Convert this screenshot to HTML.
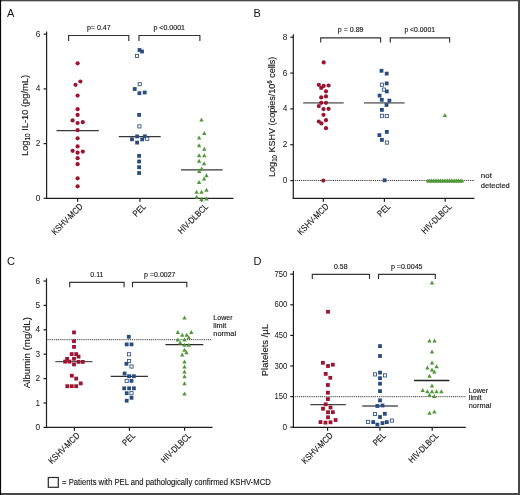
<!DOCTYPE html>
<html><head><meta charset="utf-8"><title>Figure</title>
<style>
html,body{margin:0;padding:0;background:#fff;}
body{width:520px;height:495px;overflow:hidden;}
svg{display:block;will-change:transform;}
text{font-family:"Liberation Sans", sans-serif;}
</style></head>
<body>
<svg width="520" height="495" viewBox="0 0 520 495">
<rect x="0" y="0" width="520" height="495" fill="#ffffff"/>
<text x="7.00" y="16.60" font-size="11" text-anchor="start" fill="#141414" >A</text>
<line x1="46.60" y1="31.60" x2="46.60" y2="198.90" stroke="#1e1e1e" stroke-width="1.2" />
<line x1="46.00" y1="198.30" x2="233.50" y2="198.30" stroke="#1e1e1e" stroke-width="1.2" />
<line x1="43.60" y1="198.30" x2="46.60" y2="198.30" stroke="#1e1e1e" stroke-width="1.2" />
<text x="40.30" y="200.85" font-size="8.3" text-anchor="end" fill="#141414" >0</text>
<line x1="43.60" y1="143.60" x2="46.60" y2="143.60" stroke="#1e1e1e" stroke-width="1.2" />
<text x="40.30" y="146.15" font-size="8.3" text-anchor="end" fill="#141414" >2</text>
<line x1="43.60" y1="88.90" x2="46.60" y2="88.90" stroke="#1e1e1e" stroke-width="1.2" />
<text x="40.30" y="91.45" font-size="8.3" text-anchor="end" fill="#141414" >4</text>
<line x1="43.60" y1="34.20" x2="46.60" y2="34.20" stroke="#1e1e1e" stroke-width="1.2" />
<text x="40.30" y="36.75" font-size="8.3" text-anchor="end" fill="#141414" >6</text>
<line x1="77.60" y1="198.30" x2="77.60" y2="201.70" stroke="#1e1e1e" stroke-width="1.2" />
<text x="0" y="0" font-size="9" text-anchor="end" textLength="40" lengthAdjust="spacingAndGlyphs" fill="#141414" stroke="#141414" stroke-width="0.12" transform="translate(83.5,207.20000000000002) rotate(-45)">KSHV-MCD</text>
<line x1="139.90" y1="198.30" x2="139.90" y2="201.70" stroke="#1e1e1e" stroke-width="1.2" />
<text x="0" y="0" font-size="9" text-anchor="end" textLength="14.2" lengthAdjust="spacingAndGlyphs" fill="#141414" stroke="#141414" stroke-width="0.12" transform="translate(146.4,207.20000000000002) rotate(-45)">PEL</text>
<line x1="201.60" y1="198.30" x2="201.60" y2="201.70" stroke="#1e1e1e" stroke-width="1.2" />
<text x="0" y="0" font-size="9" text-anchor="end" textLength="38.5" lengthAdjust="spacingAndGlyphs" fill="#141414" stroke="#141414" stroke-width="0.12" transform="translate(208.7,207.20000000000002) rotate(-45)">HIV-DLBCL</text>
<text x="0" y="0" font-size="9.6" text-anchor="middle" textLength="81" lengthAdjust="spacingAndGlyphs" fill="#141414" stroke="#141414" stroke-width="0.12" transform="translate(28.0,115.5) rotate(-90)">Log<tspan font-size="6.5" dy="2">10</tspan><tspan dy="-2"> IL-10 (pg/mL)</tspan></text>
<polyline points="68.6,40.9 68.6,35.5 128.8,35.5 128.8,40.9" fill="none" stroke="#333" stroke-width="1.15"/>
<polyline points="139.0,40.9 139.0,35.5 199.9,35.5 199.9,40.9" fill="none" stroke="#333" stroke-width="1.15"/>
<text x="86.90" y="29.80" font-size="6.8" text-anchor="start" textLength="23.8" lengthAdjust="spacingAndGlyphs" fill="#141414" stroke="#141414" stroke-width="0.12" >p= 0.47</text>
<text x="153.40" y="29.80" font-size="6.8" text-anchor="start" textLength="31.6" lengthAdjust="spacingAndGlyphs" fill="#141414" stroke="#141414" stroke-width="0.12" >p &lt;0.0001</text>
<line x1="56.50" y1="130.60" x2="98.80" y2="130.60" stroke="#383838" stroke-width="1.3" />
<line x1="118.80" y1="136.60" x2="160.70" y2="136.60" stroke="#383838" stroke-width="1.3" />
<line x1="181.00" y1="169.80" x2="222.70" y2="169.80" stroke="#383838" stroke-width="1.3" />
<circle cx="77.60" cy="63.30" r="2.1" fill="#9a1532"/>
<circle cx="80.40" cy="81.50" r="2.1" fill="#9a1532"/>
<circle cx="75.50" cy="84.80" r="2.1" fill="#9a1532"/>
<circle cx="77.60" cy="95.60" r="2.1" fill="#9a1532"/>
<circle cx="77.60" cy="109.20" r="2.1" fill="#9a1532"/>
<circle cx="77.60" cy="114.90" r="2.1" fill="#9a1532"/>
<circle cx="72.60" cy="120.40" r="2.1" fill="#9a1532"/>
<circle cx="77.60" cy="123.00" r="2.1" fill="#9a1532"/>
<circle cx="82.80" cy="122.20" r="2.1" fill="#9a1532"/>
<circle cx="77.60" cy="130.20" r="2.1" fill="#9a1532"/>
<circle cx="77.60" cy="138.30" r="2.1" fill="#9a1532"/>
<circle cx="77.60" cy="146.40" r="2.1" fill="#9a1532"/>
<circle cx="72.60" cy="150.80" r="2.1" fill="#9a1532"/>
<circle cx="77.60" cy="152.70" r="2.1" fill="#9a1532"/>
<circle cx="82.80" cy="151.60" r="2.1" fill="#9a1532"/>
<circle cx="77.60" cy="158.20" r="2.1" fill="#9a1532"/>
<circle cx="77.60" cy="164.20" r="2.1" fill="#9a1532"/>
<circle cx="77.60" cy="178.30" r="2.1" fill="#9a1532"/>
<circle cx="77.60" cy="186.30" r="2.1" fill="#9a1532"/>
<rect x="137.60" y="48.10" width="3.8" height="3.8" fill="#2b4b7f"/>
<rect x="140.10" y="49.60" width="3.8" height="3.8" fill="#2b4b7f"/>
<rect x="135.42" y="54.32" width="3.16" height="3.16" fill="#fff" stroke="#2b4b7f" stroke-width="0.84"/>
<rect x="138.12" y="82.62" width="3.16" height="3.16" fill="#fff" stroke="#2b4b7f" stroke-width="0.84"/>
<rect x="132.80" y="87.10" width="3.8" height="3.8" fill="#2b4b7f"/>
<rect x="137.50" y="91.30" width="3.8" height="3.8" fill="#2b4b7f"/>
<rect x="142.80" y="90.60" width="3.8" height="3.8" fill="#2b4b7f"/>
<rect x="137.20" y="113.00" width="3.8" height="3.8" fill="#2b4b7f"/>
<rect x="137.82" y="124.82" width="3.16" height="3.16" fill="#fff" stroke="#2b4b7f" stroke-width="0.84"/>
<rect x="135.20" y="134.50" width="3.8" height="3.8" fill="#2b4b7f"/>
<rect x="130.10" y="137.40" width="3.8" height="3.8" fill="#2b4b7f"/>
<rect x="135.20" y="140.70" width="3.8" height="3.8" fill="#2b4b7f"/>
<rect x="140.30" y="137.50" width="3.8" height="3.8" fill="#2b4b7f"/>
<rect x="143.00" y="134.40" width="3.8" height="3.8" fill="#2b4b7f"/>
<rect x="145.62" y="137.22" width="3.16" height="3.16" fill="#fff" stroke="#2b4b7f" stroke-width="0.84"/>
<rect x="137.20" y="154.00" width="3.8" height="3.8" fill="#2b4b7f"/>
<rect x="137.20" y="159.60" width="3.8" height="3.8" fill="#2b4b7f"/>
<rect x="137.20" y="165.30" width="3.8" height="3.8" fill="#2b4b7f"/>
<rect x="137.20" y="171.10" width="3.8" height="3.8" fill="#2b4b7f"/>
<polygon points="199.30,121.40 203.70,121.40 201.50,117.40" fill="#52983a"/>
<polygon points="202.10,135.10 206.50,135.10 204.30,131.10" fill="#52983a"/>
<polygon points="196.90,139.60 201.30,139.60 199.10,135.60" fill="#52983a"/>
<polygon points="196.90,147.20 201.30,147.20 199.10,143.20" fill="#52983a"/>
<polygon points="202.10,150.80 206.50,150.80 204.30,146.80" fill="#52983a"/>
<polygon points="196.90,157.30 201.30,157.30 199.10,153.30" fill="#52983a"/>
<polygon points="202.10,157.30 206.50,157.30 204.30,153.30" fill="#52983a"/>
<polygon points="196.90,162.70 201.30,162.70 199.10,158.70" fill="#52983a"/>
<polygon points="201.90,165.20 206.30,165.20 204.10,161.20" fill="#52983a"/>
<polygon points="199.40,170.40 203.80,170.40 201.60,166.40" fill="#52983a"/>
<polygon points="197.10,173.10 201.50,173.10 199.30,169.10" fill="#52983a"/>
<polygon points="204.30,177.20 208.70,177.20 206.50,173.20" fill="#52983a"/>
<polygon points="201.90,180.50 206.30,180.50 204.10,176.50" fill="#52983a"/>
<polygon points="196.90,184.10 201.30,184.10 199.10,180.10" fill="#52983a"/>
<polygon points="204.30,191.80 208.70,191.80 206.50,187.80" fill="#52983a"/>
<polygon points="194.40,193.80 198.80,193.80 196.60,189.80" fill="#52983a"/>
<polygon points="199.30,193.80 203.70,193.80 201.50,189.80" fill="#52983a"/>
<polygon points="194.40,198.80 198.80,198.80 196.60,194.80" fill="#52983a"/>
<polygon points="199.30,200.90 203.70,200.90 201.50,196.90" fill="#52983a"/>
<polygon points="204.30,200.60 208.70,200.60 206.50,196.60" fill="#52983a"/>
<text x="253.50" y="17.00" font-size="11" text-anchor="start" fill="#141414" >B</text>
<line x1="293.30" y1="34.20" x2="293.30" y2="198.90" stroke="#1e1e1e" stroke-width="1.2" />
<line x1="292.70" y1="198.30" x2="474.40" y2="198.30" stroke="#1e1e1e" stroke-width="1.2" />
<line x1="290.30" y1="180.60" x2="293.30" y2="180.60" stroke="#1e1e1e" stroke-width="1.2" />
<text x="287.40" y="183.15" font-size="8.3" text-anchor="end" fill="#141414" >0</text>
<line x1="290.30" y1="144.75" x2="293.30" y2="144.75" stroke="#1e1e1e" stroke-width="1.2" />
<text x="287.40" y="147.30" font-size="8.3" text-anchor="end" fill="#141414" >2</text>
<line x1="290.30" y1="108.90" x2="293.30" y2="108.90" stroke="#1e1e1e" stroke-width="1.2" />
<text x="287.40" y="111.45" font-size="8.3" text-anchor="end" fill="#141414" >4</text>
<line x1="290.30" y1="73.05" x2="293.30" y2="73.05" stroke="#1e1e1e" stroke-width="1.2" />
<text x="287.40" y="75.60" font-size="8.3" text-anchor="end" fill="#141414" >6</text>
<line x1="290.30" y1="37.20" x2="293.30" y2="37.20" stroke="#1e1e1e" stroke-width="1.2" />
<text x="287.40" y="39.75" font-size="8.3" text-anchor="end" fill="#141414" >8</text>
<line x1="323.40" y1="198.30" x2="323.40" y2="201.70" stroke="#1e1e1e" stroke-width="1.2" />
<text x="0" y="0" font-size="9" text-anchor="end" textLength="40" lengthAdjust="spacingAndGlyphs" fill="#141414" stroke="#141414" stroke-width="0.12" transform="translate(329.29999999999995,207.20000000000002) rotate(-45)">KSHV-MCD</text>
<line x1="384.40" y1="198.30" x2="384.40" y2="201.70" stroke="#1e1e1e" stroke-width="1.2" />
<text x="0" y="0" font-size="9" text-anchor="end" textLength="14.2" lengthAdjust="spacingAndGlyphs" fill="#141414" stroke="#141414" stroke-width="0.12" transform="translate(390.9,207.20000000000002) rotate(-45)">PEL</text>
<line x1="445.20" y1="198.30" x2="445.20" y2="201.70" stroke="#1e1e1e" stroke-width="1.2" />
<text x="0" y="0" font-size="9" text-anchor="end" textLength="38.5" lengthAdjust="spacingAndGlyphs" fill="#141414" stroke="#141414" stroke-width="0.12" transform="translate(452.3,207.20000000000002) rotate(-45)">HIV-DLBCL</text>
<text x="0" y="0" font-size="9.6" text-anchor="middle" textLength="120.3" lengthAdjust="spacingAndGlyphs" fill="#141414" stroke="#141414" stroke-width="0.12" transform="translate(274.7,116.8) rotate(-90)">Log<tspan font-size="6.5" dy="2">10</tspan><tspan dy="-2"> KSHV (copies/10</tspan><tspan font-size="6.5" dy="-3">6</tspan><tspan dy="3"> cells)</tspan></text>
<polyline points="320.7,42.4 320.7,37.8 380.6,37.8 380.6,42.4" fill="none" stroke="#333" stroke-width="1.15"/>
<polyline points="390.3,42.4 390.3,37.8 449.6,37.8 449.6,42.4" fill="none" stroke="#333" stroke-width="1.15"/>
<text x="337.80" y="32.30" font-size="6.8" text-anchor="start" textLength="25.7" lengthAdjust="spacingAndGlyphs" fill="#141414" stroke="#141414" stroke-width="0.12" >p = 0.89</text>
<text x="404.40" y="32.30" font-size="6.8" text-anchor="start" textLength="30.6" lengthAdjust="spacingAndGlyphs" fill="#141414" stroke="#141414" stroke-width="0.12" >p &lt;0.0001</text>
<line x1="293.3" y1="180.5" x2="474.3" y2="180.5" stroke="#2a2a2a" stroke-width="1.0" stroke-dasharray="1 0.9"/>
<text x="480.80" y="178.20" font-size="8" text-anchor="start" fill="#141414" stroke="#141414" stroke-width="0.12" >not</text>
<text x="480.80" y="187.50" font-size="8" text-anchor="start" textLength="29" lengthAdjust="spacingAndGlyphs" fill="#141414" stroke="#141414" stroke-width="0.12" >detected</text>
<line x1="303.20" y1="102.90" x2="343.70" y2="102.90" stroke="#808080" stroke-width="1.8" />
<line x1="364.00" y1="102.90" x2="404.60" y2="102.90" stroke="#808080" stroke-width="1.8" />
<circle cx="323.70" cy="62.40" r="2.1" fill="#9a1532"/>
<circle cx="318.80" cy="84.80" r="2.1" fill="#9a1532"/>
<circle cx="323.70" cy="85.90" r="2.1" fill="#9a1532"/>
<circle cx="328.60" cy="85.50" r="2.1" fill="#9a1532"/>
<circle cx="321.20" cy="87.90" r="2.1" fill="#9a1532"/>
<circle cx="326.00" cy="91.30" r="2.1" fill="#9a1532"/>
<circle cx="321.20" cy="97.40" r="2.1" fill="#9a1532"/>
<circle cx="326.00" cy="96.40" r="2.1" fill="#9a1532"/>
<circle cx="321.20" cy="102.80" r="2.1" fill="#9a1532"/>
<circle cx="326.00" cy="102.80" r="2.1" fill="#9a1532"/>
<circle cx="318.80" cy="106.10" r="2.1" fill="#9a1532"/>
<circle cx="323.50" cy="109.10" r="2.1" fill="#9a1532"/>
<circle cx="328.60" cy="108.80" r="2.1" fill="#9a1532"/>
<circle cx="323.50" cy="114.80" r="2.1" fill="#9a1532"/>
<circle cx="326.00" cy="120.20" r="2.1" fill="#9a1532"/>
<circle cx="318.80" cy="121.50" r="2.1" fill="#9a1532"/>
<circle cx="321.40" cy="123.40" r="2.1" fill="#9a1532"/>
<circle cx="326.00" cy="128.20" r="2.1" fill="#9a1532"/>
<circle cx="323.30" cy="180.60" r="2.1" fill="#9a1532"/>
<rect x="379.60" y="68.90" width="3.8" height="3.8" fill="#2b4b7f"/>
<rect x="384.80" y="71.70" width="3.8" height="3.8" fill="#2b4b7f"/>
<rect x="384.80" y="81.50" width="3.8" height="3.8" fill="#2b4b7f"/>
<rect x="380.32" y="83.12" width="3.16" height="3.16" fill="#fff" stroke="#2b4b7f" stroke-width="0.84"/>
<rect x="382.32" y="88.02" width="3.16" height="3.16" fill="#fff" stroke="#2b4b7f" stroke-width="0.84"/>
<rect x="384.90" y="89.50" width="3.8" height="3.8" fill="#2b4b7f"/>
<rect x="377.70" y="93.70" width="3.8" height="3.8" fill="#2b4b7f"/>
<rect x="379.90" y="97.90" width="3.8" height="3.8" fill="#2b4b7f"/>
<rect x="387.50" y="98.70" width="3.8" height="3.8" fill="#2b4b7f"/>
<rect x="384.60" y="103.10" width="3.8" height="3.8" fill="#2b4b7f"/>
<rect x="380.00" y="108.00" width="3.8" height="3.8" fill="#2b4b7f"/>
<rect x="380.32" y="114.22" width="3.16" height="3.16" fill="#fff" stroke="#2b4b7f" stroke-width="0.84"/>
<rect x="385.22" y="114.52" width="3.16" height="3.16" fill="#fff" stroke="#2b4b7f" stroke-width="0.84"/>
<rect x="384.90" y="130.00" width="3.8" height="3.8" fill="#2b4b7f"/>
<rect x="377.50" y="133.20" width="3.8" height="3.8" fill="#2b4b7f"/>
<rect x="380.00" y="138.00" width="3.8" height="3.8" fill="#2b4b7f"/>
<rect x="385.32" y="141.02" width="3.16" height="3.16" fill="#fff" stroke="#2b4b7f" stroke-width="0.84"/>
<rect x="382.70" y="178.40" width="3.8" height="3.8" fill="#2b4b7f"/>
<polygon points="442.70,116.90 447.10,116.90 444.90,112.90" fill="#52983a"/>
<polygon points="425.80,182.60 430.20,182.60 428.00,178.60" fill="#52983a"/>
<polygon points="427.59,182.60 431.99,182.60 429.79,178.60" fill="#52983a"/>
<polygon points="429.38,182.60 433.78,182.60 431.58,178.60" fill="#52983a"/>
<polygon points="431.17,182.60 435.57,182.60 433.37,178.60" fill="#52983a"/>
<polygon points="432.96,182.60 437.36,182.60 435.16,178.60" fill="#52983a"/>
<polygon points="434.75,182.60 439.15,182.60 436.95,178.60" fill="#52983a"/>
<polygon points="436.54,182.60 440.94,182.60 438.74,178.60" fill="#52983a"/>
<polygon points="438.33,182.60 442.73,182.60 440.53,178.60" fill="#52983a"/>
<polygon points="440.12,182.60 444.52,182.60 442.32,178.60" fill="#52983a"/>
<polygon points="441.91,182.60 446.31,182.60 444.11,178.60" fill="#52983a"/>
<polygon points="443.69,182.60 448.09,182.60 445.89,178.60" fill="#52983a"/>
<polygon points="445.48,182.60 449.88,182.60 447.68,178.60" fill="#52983a"/>
<polygon points="447.27,182.60 451.67,182.60 449.47,178.60" fill="#52983a"/>
<polygon points="449.06,182.60 453.46,182.60 451.26,178.60" fill="#52983a"/>
<polygon points="450.85,182.60 455.25,182.60 453.05,178.60" fill="#52983a"/>
<polygon points="452.64,182.60 457.04,182.60 454.84,178.60" fill="#52983a"/>
<polygon points="454.43,182.60 458.83,182.60 456.63,178.60" fill="#52983a"/>
<polygon points="456.22,182.60 460.62,182.60 458.42,178.60" fill="#52983a"/>
<polygon points="458.01,182.60 462.41,182.60 460.21,178.60" fill="#52983a"/>
<polygon points="459.80,182.60 464.20,182.60 462.00,178.60" fill="#52983a"/>
<text x="7.00" y="264.50" font-size="11" text-anchor="start" fill="#141414" >C</text>
<line x1="46.50" y1="278.30" x2="46.50" y2="427.90" stroke="#1e1e1e" stroke-width="1.2" />
<line x1="45.90" y1="427.30" x2="212.50" y2="427.30" stroke="#1e1e1e" stroke-width="1.2" />
<line x1="43.50" y1="427.40" x2="46.50" y2="427.40" stroke="#1e1e1e" stroke-width="1.2" />
<text x="40.00" y="429.95" font-size="8.3" text-anchor="end" fill="#141414" >0</text>
<line x1="43.50" y1="403.00" x2="46.50" y2="403.00" stroke="#1e1e1e" stroke-width="1.2" />
<text x="40.00" y="405.55" font-size="8.3" text-anchor="end" fill="#141414" >1</text>
<line x1="43.50" y1="378.60" x2="46.50" y2="378.60" stroke="#1e1e1e" stroke-width="1.2" />
<text x="40.00" y="381.15" font-size="8.3" text-anchor="end" fill="#141414" >2</text>
<line x1="43.50" y1="354.20" x2="46.50" y2="354.20" stroke="#1e1e1e" stroke-width="1.2" />
<text x="40.00" y="356.75" font-size="8.3" text-anchor="end" fill="#141414" >3</text>
<line x1="43.50" y1="329.80" x2="46.50" y2="329.80" stroke="#1e1e1e" stroke-width="1.2" />
<text x="40.00" y="332.35" font-size="8.3" text-anchor="end" fill="#141414" >4</text>
<line x1="43.50" y1="305.40" x2="46.50" y2="305.40" stroke="#1e1e1e" stroke-width="1.2" />
<text x="40.00" y="307.95" font-size="8.3" text-anchor="end" fill="#141414" >5</text>
<line x1="43.50" y1="281.00" x2="46.50" y2="281.00" stroke="#1e1e1e" stroke-width="1.2" />
<text x="40.00" y="283.55" font-size="8.3" text-anchor="end" fill="#141414" >6</text>
<line x1="74.40" y1="427.30" x2="74.40" y2="430.70" stroke="#1e1e1e" stroke-width="1.2" />
<text x="0" y="0" font-size="9" text-anchor="end" textLength="40" lengthAdjust="spacingAndGlyphs" fill="#141414" stroke="#141414" stroke-width="0.12" transform="translate(80.30000000000001,436.2) rotate(-45)">KSHV-MCD</text>
<line x1="129.40" y1="427.30" x2="129.40" y2="430.70" stroke="#1e1e1e" stroke-width="1.2" />
<text x="0" y="0" font-size="9" text-anchor="end" textLength="14.2" lengthAdjust="spacingAndGlyphs" fill="#141414" stroke="#141414" stroke-width="0.12" transform="translate(135.9,436.2) rotate(-45)">PEL</text>
<line x1="184.60" y1="427.30" x2="184.60" y2="430.70" stroke="#1e1e1e" stroke-width="1.2" />
<text x="0" y="0" font-size="9" text-anchor="end" textLength="38.5" lengthAdjust="spacingAndGlyphs" fill="#141414" stroke="#141414" stroke-width="0.12" transform="translate(191.7,436.2) rotate(-45)">HIV-DLBCL</text>
<text x="0" y="0" font-size="9.6" text-anchor="middle" textLength="71.2" lengthAdjust="spacingAndGlyphs" fill="#141414" stroke="#141414" stroke-width="0.12" transform="translate(30.1,352.6) rotate(-90)">Albumin (mg/dL)</text>
<polyline points="69.7,287.2 69.7,282.3 124.1,282.3 124.1,287.2" fill="none" stroke="#333" stroke-width="1.15"/>
<polyline points="132.5,287.2 132.5,282.3 186.8,282.3 186.8,287.2" fill="none" stroke="#333" stroke-width="1.15"/>
<text x="90.30" y="276.80" font-size="6.8" text-anchor="start" textLength="13.1" lengthAdjust="spacingAndGlyphs" fill="#141414" stroke="#141414" stroke-width="0.12" >0.11</text>
<text x="144.10" y="276.80" font-size="6.8" text-anchor="start" textLength="31.4" lengthAdjust="spacingAndGlyphs" fill="#141414" stroke="#141414" stroke-width="0.12" >p =0.0027</text>
<line x1="46.5" y1="339.7" x2="211.0" y2="339.7" stroke="#2a2a2a" stroke-width="1.0" stroke-dasharray="1 0.9"/>
<text x="213.30" y="320.40" font-size="7.3" text-anchor="start" textLength="19.2" lengthAdjust="spacingAndGlyphs" fill="#141414" stroke="#141414" stroke-width="0.12" >Lower</text>
<text x="213.30" y="328.00" font-size="7.3" text-anchor="start" fill="#141414" stroke="#141414" stroke-width="0.12" >limit</text>
<text x="213.30" y="335.80" font-size="7.3" text-anchor="start" textLength="22.8" lengthAdjust="spacingAndGlyphs" fill="#141414" stroke="#141414" stroke-width="0.12" >normal</text>
<line x1="55.30" y1="361.60" x2="92.50" y2="361.60" stroke="#555" stroke-width="1.2" />
<line x1="110.70" y1="376.30" x2="147.90" y2="376.30" stroke="#333" stroke-width="1.3" />
<line x1="165.50" y1="344.60" x2="203.30" y2="344.60" stroke="#2a2a2a" stroke-width="1.1" />
<rect x="72.10" y="330.50" width="3.8" height="3.8" fill="#9a1532"/>
<rect x="72.10" y="339.30" width="3.8" height="3.8" fill="#9a1532"/>
<rect x="72.10" y="345.00" width="3.8" height="3.8" fill="#9a1532"/>
<rect x="69.80" y="352.20" width="3.8" height="3.8" fill="#9a1532"/>
<rect x="74.30" y="352.20" width="3.8" height="3.8" fill="#9a1532"/>
<rect x="76.60" y="354.70" width="3.8" height="3.8" fill="#9a1532"/>
<rect x="65.20" y="356.90" width="3.8" height="3.8" fill="#9a1532"/>
<rect x="72.10" y="356.90" width="3.8" height="3.8" fill="#9a1532"/>
<rect x="63.20" y="359.70" width="3.8" height="3.8" fill="#9a1532"/>
<rect x="67.50" y="359.70" width="3.8" height="3.8" fill="#9a1532"/>
<rect x="76.60" y="360.00" width="3.8" height="3.8" fill="#9a1532"/>
<rect x="80.90" y="360.00" width="3.8" height="3.8" fill="#9a1532"/>
<rect x="72.10" y="362.50" width="3.8" height="3.8" fill="#9a1532"/>
<rect x="69.90" y="373.80" width="3.8" height="3.8" fill="#9a1532"/>
<rect x="74.30" y="376.70" width="3.8" height="3.8" fill="#9a1532"/>
<rect x="78.80" y="381.50" width="3.8" height="3.8" fill="#9a1532"/>
<rect x="65.40" y="384.30" width="3.8" height="3.8" fill="#9a1532"/>
<rect x="69.90" y="384.30" width="3.8" height="3.8" fill="#9a1532"/>
<rect x="74.30" y="384.30" width="3.8" height="3.8" fill="#9a1532"/>
<rect x="126.90" y="334.90" width="3.8" height="3.8" fill="#2b4b7f"/>
<rect x="124.80" y="342.50" width="3.8" height="3.8" fill="#2b4b7f"/>
<rect x="129.60" y="342.50" width="3.8" height="3.8" fill="#2b4b7f"/>
<rect x="127.52" y="352.72" width="3.16" height="3.16" fill="#fff" stroke="#2b4b7f" stroke-width="0.84"/>
<rect x="127.52" y="359.52" width="3.16" height="3.16" fill="#fff" stroke="#2b4b7f" stroke-width="0.84"/>
<rect x="124.50" y="361.90" width="3.8" height="3.8" fill="#2b4b7f"/>
<rect x="129.92" y="364.92" width="3.16" height="3.16" fill="#fff" stroke="#2b4b7f" stroke-width="0.84"/>
<rect x="122.70" y="371.60" width="3.8" height="3.8" fill="#2b4b7f"/>
<rect x="127.20" y="374.30" width="3.8" height="3.8" fill="#2b4b7f"/>
<rect x="132.00" y="374.30" width="3.8" height="3.8" fill="#2b4b7f"/>
<rect x="125.12" y="379.32" width="3.16" height="3.16" fill="#fff" stroke="#2b4b7f" stroke-width="0.84"/>
<rect x="129.60" y="379.00" width="3.8" height="3.8" fill="#2b4b7f"/>
<rect x="122.30" y="386.40" width="3.8" height="3.8" fill="#2b4b7f"/>
<rect x="127.20" y="386.40" width="3.8" height="3.8" fill="#2b4b7f"/>
<rect x="132.00" y="386.40" width="3.8" height="3.8" fill="#2b4b7f"/>
<rect x="124.80" y="391.30" width="3.8" height="3.8" fill="#2b4b7f"/>
<rect x="129.92" y="391.62" width="3.16" height="3.16" fill="#fff" stroke="#2b4b7f" stroke-width="0.84"/>
<rect x="129.60" y="395.90" width="3.8" height="3.8" fill="#2b4b7f"/>
<rect x="124.80" y="398.80" width="3.8" height="3.8" fill="#2b4b7f"/>
<polygon points="182.30,319.60 186.70,319.60 184.50,315.60" fill="#52983a"/>
<polygon points="175.60,334.10 180.00,334.10 177.80,330.10" fill="#52983a"/>
<polygon points="189.10,334.10 193.50,334.10 191.30,330.10" fill="#52983a"/>
<polygon points="180.00,336.80 184.40,336.80 182.20,332.80" fill="#52983a"/>
<polygon points="184.50,336.80 188.90,336.80 186.70,332.80" fill="#52983a"/>
<polygon points="186.60,339.30 191.00,339.30 188.80,335.30" fill="#52983a"/>
<polygon points="175.60,341.40 180.00,341.40 177.80,337.40" fill="#52983a"/>
<polygon points="182.30,341.40 186.70,341.40 184.50,337.40" fill="#52983a"/>
<polygon points="178.00,344.40 182.40,344.40 180.20,340.40" fill="#52983a"/>
<polygon points="182.30,346.80 186.70,346.80 184.50,342.80" fill="#52983a"/>
<polygon points="186.60,346.80 191.00,346.80 188.80,342.80" fill="#52983a"/>
<polygon points="182.30,351.80 186.70,351.80 184.50,347.80" fill="#52983a"/>
<polygon points="184.30,354.20 188.70,354.20 186.50,350.20" fill="#52983a"/>
<polygon points="180.00,356.50 184.40,356.50 182.20,352.50" fill="#52983a"/>
<polygon points="182.30,363.40 186.70,363.40 184.50,359.40" fill="#52983a"/>
<polygon points="182.30,368.60 186.70,368.60 184.50,364.60" fill="#52983a"/>
<polygon points="182.30,373.40 186.70,373.40 184.50,369.40" fill="#52983a"/>
<polygon points="182.30,378.30 186.70,378.30 184.50,374.30" fill="#52983a"/>
<polygon points="182.30,385.30 186.70,385.30 184.50,381.30" fill="#52983a"/>
<polygon points="182.30,395.50 186.70,395.50 184.50,391.50" fill="#52983a"/>
<text x="253.50" y="264.50" font-size="11" text-anchor="start" fill="#141414" >D</text>
<line x1="293.40" y1="271.00" x2="293.40" y2="427.90" stroke="#1e1e1e" stroke-width="1.2" />
<line x1="292.80" y1="427.30" x2="465.80" y2="427.30" stroke="#1e1e1e" stroke-width="1.2" />
<line x1="290.30" y1="427.20" x2="293.40" y2="427.20" stroke="#1e1e1e" stroke-width="1.2" />
<text x="287.20" y="429.75" font-size="8.3" text-anchor="end" fill="#141414" >0</text>
<line x1="290.30" y1="396.60" x2="293.40" y2="396.60" stroke="#1e1e1e" stroke-width="1.2" />
<text x="287.20" y="399.15" font-size="8.3" text-anchor="end" textLength="12.8" lengthAdjust="spacingAndGlyphs" fill="#141414" >150</text>
<line x1="290.30" y1="366.00" x2="293.40" y2="366.00" stroke="#1e1e1e" stroke-width="1.2" />
<text x="287.20" y="368.55" font-size="8.3" text-anchor="end" textLength="12.8" lengthAdjust="spacingAndGlyphs" fill="#141414" >300</text>
<line x1="290.30" y1="335.40" x2="293.40" y2="335.40" stroke="#1e1e1e" stroke-width="1.2" />
<text x="287.20" y="337.95" font-size="8.3" text-anchor="end" textLength="12.8" lengthAdjust="spacingAndGlyphs" fill="#141414" >450</text>
<line x1="290.30" y1="304.80" x2="293.40" y2="304.80" stroke="#1e1e1e" stroke-width="1.2" />
<text x="287.20" y="307.35" font-size="8.3" text-anchor="end" textLength="12.8" lengthAdjust="spacingAndGlyphs" fill="#141414" >600</text>
<line x1="290.30" y1="274.20" x2="293.40" y2="274.20" stroke="#1e1e1e" stroke-width="1.2" />
<text x="287.20" y="276.75" font-size="8.3" text-anchor="end" textLength="12.8" lengthAdjust="spacingAndGlyphs" fill="#141414" >750</text>
<line x1="327.60" y1="427.30" x2="327.60" y2="430.70" stroke="#1e1e1e" stroke-width="1.2" />
<text x="0" y="0" font-size="9" text-anchor="end" textLength="40" lengthAdjust="spacingAndGlyphs" fill="#141414" stroke="#141414" stroke-width="0.12" transform="translate(333.5,436.2) rotate(-45)">KSHV-MCD</text>
<line x1="380.00" y1="427.30" x2="380.00" y2="430.70" stroke="#1e1e1e" stroke-width="1.2" />
<text x="0" y="0" font-size="9" text-anchor="end" textLength="14.2" lengthAdjust="spacingAndGlyphs" fill="#141414" stroke="#141414" stroke-width="0.12" transform="translate(386.5,436.2) rotate(-45)">PEL</text>
<line x1="432.20" y1="427.30" x2="432.20" y2="430.70" stroke="#1e1e1e" stroke-width="1.2" />
<text x="0" y="0" font-size="9" text-anchor="end" textLength="38.5" lengthAdjust="spacingAndGlyphs" fill="#141414" stroke="#141414" stroke-width="0.12" transform="translate(439.3,436.2) rotate(-45)">HIV-DLBCL</text>
<text x="0" y="0" font-size="9.6" text-anchor="middle" textLength="52.2" lengthAdjust="spacingAndGlyphs" fill="#141414" stroke="#141414" stroke-width="0.12" transform="translate(267.8,350.1) rotate(-90)">Platelets /µL</text>
<polyline points="312.3,278.9 312.3,274.3 369.5,274.3 369.5,278.9" fill="none" stroke="#333" stroke-width="1.15"/>
<polyline points="378.5,278.9 378.5,274.3 435.3,274.3 435.3,278.9" fill="none" stroke="#333" stroke-width="1.15"/>
<text x="334.00" y="269.00" font-size="6.8" text-anchor="start" textLength="13.5" lengthAdjust="spacingAndGlyphs" fill="#141414" stroke="#141414" stroke-width="0.12" >0.58</text>
<text x="390.90" y="269.00" font-size="6.8" text-anchor="start" textLength="31.6" lengthAdjust="spacingAndGlyphs" fill="#141414" stroke="#141414" stroke-width="0.12" >p =0.0045</text>
<line x1="293.4" y1="396.7" x2="465.8" y2="396.7" stroke="#2a2a2a" stroke-width="1.0" stroke-dasharray="1 0.9"/>
<text x="468.80" y="392.60" font-size="7.3" text-anchor="start" textLength="19.2" lengthAdjust="spacingAndGlyphs" fill="#141414" stroke="#141414" stroke-width="0.12" >Lower</text>
<text x="468.80" y="400.00" font-size="7.3" text-anchor="start" fill="#141414" stroke="#141414" stroke-width="0.12" >limit</text>
<text x="468.80" y="407.50" font-size="7.3" text-anchor="start" textLength="22.4" lengthAdjust="spacingAndGlyphs" fill="#141414" stroke="#141414" stroke-width="0.12" >normal</text>
<line x1="310.30" y1="404.70" x2="345.90" y2="404.70" stroke="#444" stroke-width="1.2" />
<line x1="362.30" y1="406.00" x2="397.90" y2="406.00" stroke="#808080" stroke-width="1.8" />
<line x1="414.10" y1="380.50" x2="449.40" y2="380.50" stroke="#222" stroke-width="1.3" />
<rect x="326.10" y="309.90" width="3.8" height="3.8" fill="#9a1532"/>
<rect x="321.00" y="360.90" width="3.8" height="3.8" fill="#9a1532"/>
<rect x="326.10" y="364.10" width="3.8" height="3.8" fill="#9a1532"/>
<rect x="330.90" y="362.80" width="3.8" height="3.8" fill="#9a1532"/>
<rect x="323.80" y="372.00" width="3.8" height="3.8" fill="#9a1532"/>
<rect x="328.40" y="375.90" width="3.8" height="3.8" fill="#9a1532"/>
<rect x="326.00" y="383.10" width="3.8" height="3.8" fill="#9a1532"/>
<rect x="326.00" y="390.80" width="3.8" height="3.8" fill="#9a1532"/>
<rect x="326.00" y="397.20" width="3.8" height="3.8" fill="#9a1532"/>
<rect x="323.80" y="402.40" width="3.8" height="3.8" fill="#9a1532"/>
<rect x="321.10" y="406.80" width="3.8" height="3.8" fill="#9a1532"/>
<rect x="328.60" y="405.60" width="3.8" height="3.8" fill="#9a1532"/>
<rect x="326.10" y="410.30" width="3.8" height="3.8" fill="#9a1532"/>
<rect x="330.90" y="410.30" width="3.8" height="3.8" fill="#9a1532"/>
<rect x="326.10" y="415.40" width="3.8" height="3.8" fill="#9a1532"/>
<rect x="333.70" y="418.10" width="3.8" height="3.8" fill="#9a1532"/>
<rect x="318.60" y="420.20" width="3.8" height="3.8" fill="#9a1532"/>
<rect x="323.60" y="420.70" width="3.8" height="3.8" fill="#9a1532"/>
<rect x="328.60" y="420.40" width="3.8" height="3.8" fill="#9a1532"/>
<rect x="378.10" y="344.20" width="3.8" height="3.8" fill="#2b4b7f"/>
<rect x="378.10" y="354.10" width="3.8" height="3.8" fill="#2b4b7f"/>
<rect x="378.10" y="370.70" width="3.8" height="3.8" fill="#2b4b7f"/>
<rect x="373.42" y="372.82" width="3.16" height="3.16" fill="#fff" stroke="#2b4b7f" stroke-width="0.84"/>
<rect x="383.42" y="373.82" width="3.16" height="3.16" fill="#fff" stroke="#2b4b7f" stroke-width="0.84"/>
<rect x="378.10" y="376.30" width="3.8" height="3.8" fill="#2b4b7f"/>
<rect x="378.10" y="381.80" width="3.8" height="3.8" fill="#2b4b7f"/>
<rect x="378.10" y="389.20" width="3.8" height="3.8" fill="#2b4b7f"/>
<rect x="378.10" y="398.50" width="3.8" height="3.8" fill="#2b4b7f"/>
<rect x="375.50" y="404.10" width="3.8" height="3.8" fill="#2b4b7f"/>
<rect x="380.60" y="403.60" width="3.8" height="3.8" fill="#2b4b7f"/>
<rect x="373.32" y="412.42" width="3.16" height="3.16" fill="#fff" stroke="#2b4b7f" stroke-width="0.84"/>
<rect x="382.90" y="411.90" width="3.8" height="3.8" fill="#2b4b7f"/>
<rect x="378.10" y="415.10" width="3.8" height="3.8" fill="#2b4b7f"/>
<rect x="366.52" y="420.32" width="3.16" height="3.16" fill="#fff" stroke="#2b4b7f" stroke-width="0.84"/>
<rect x="371.30" y="420.20" width="3.8" height="3.8" fill="#2b4b7f"/>
<rect x="375.50" y="422.70" width="3.8" height="3.8" fill="#2b4b7f"/>
<rect x="380.60" y="421.20" width="3.8" height="3.8" fill="#2b4b7f"/>
<rect x="384.90" y="420.20" width="3.8" height="3.8" fill="#2b4b7f"/>
<rect x="390.32" y="419.02" width="3.16" height="3.16" fill="#fff" stroke="#2b4b7f" stroke-width="0.84"/>
<polygon points="429.80,284.60 434.20,284.60 432.00,280.60" fill="#52983a"/>
<polygon points="427.30,342.40 431.70,342.40 429.50,338.40" fill="#52983a"/>
<polygon points="432.30,342.40 436.70,342.40 434.50,338.40" fill="#52983a"/>
<polygon points="429.80,353.50 434.20,353.50 432.00,349.50" fill="#52983a"/>
<polygon points="429.80,364.40 434.20,364.40 432.00,360.40" fill="#52983a"/>
<polygon points="434.40,368.20 438.80,368.20 436.60,364.20" fill="#52983a"/>
<polygon points="425.20,369.50 429.60,369.50 427.40,365.50" fill="#52983a"/>
<polygon points="429.80,371.50 434.20,371.50 432.00,367.50" fill="#52983a"/>
<polygon points="432.10,373.40 436.50,373.40 434.30,369.40" fill="#52983a"/>
<polygon points="427.30,377.70 431.70,377.70 429.50,373.70" fill="#52983a"/>
<polygon points="429.80,387.50 434.20,387.50 432.00,383.50" fill="#52983a"/>
<polygon points="420.50,392.00 424.90,392.00 422.70,388.00" fill="#52983a"/>
<polygon points="425.20,393.30 429.60,393.30 427.40,389.30" fill="#52983a"/>
<polygon points="429.80,393.30 434.20,393.30 432.00,389.30" fill="#52983a"/>
<polygon points="434.40,393.30 438.80,393.30 436.60,389.30" fill="#52983a"/>
<polygon points="439.20,393.30 443.60,393.30 441.40,389.30" fill="#52983a"/>
<polygon points="427.30,396.80 431.70,396.80 429.50,392.80" fill="#52983a"/>
<polygon points="432.10,398.10 436.50,398.10 434.30,394.10" fill="#52983a"/>
<polygon points="427.30,414.80 431.70,414.80 429.50,410.80" fill="#52983a"/>
<polygon points="432.10,413.50 436.50,413.50 434.30,409.50" fill="#52983a"/>
<rect x="48.3" y="477.5" width="10" height="9.8" fill="none" stroke="#2a2a2a" stroke-width="1.2"/>
<text x="62.10" y="485.40" font-size="8.8" text-anchor="start" textLength="208.7" lengthAdjust="spacingAndGlyphs" fill="#141414" stroke="#141414" stroke-width="0.12" >= Patients with PEL and pathologically confirmed KSHV-MCD</text>
<rect x="0" y="0" width="520" height="1.3" fill="#474747"/>
<rect x="0" y="493" width="520" height="2" fill="#474747"/>
<rect x="518" y="0" width="2" height="495" fill="#474747"/>
<rect x="0" y="0" width="1.1" height="495" fill="#050505"/>
</svg>
</body></html>
